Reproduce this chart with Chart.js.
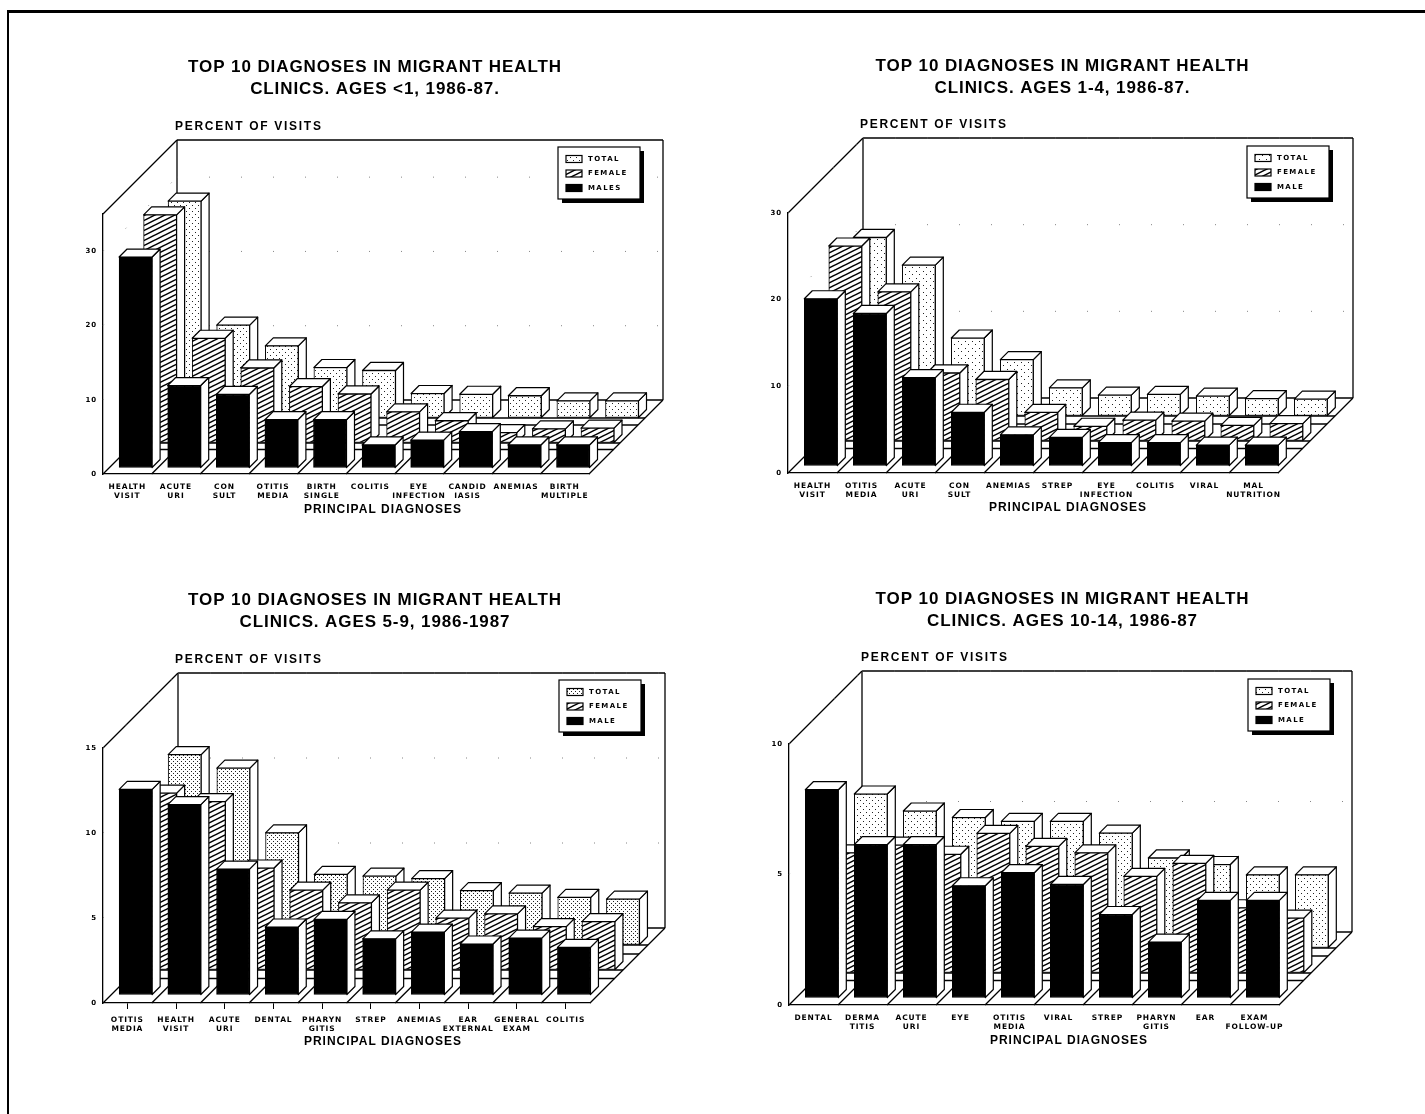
<!DOCTYPE html>
<html>
<head>
<meta charset="utf-8">
<title>Top 10 diagnoses in migrant health clinics</title>
<script src="https://cdn.jsdelivr.net/npm/chart.js@4"></script>
<style>
html, body { margin: 0; background: #fff; }
body { width: 1425px; height: 1114px; position: relative; overflow: hidden; }
#frame { position: absolute; left: 7px; top: 10px; width: 1430px; height: 1120px; border-top: 3px solid #000; border-left: 2px solid #000; }
canvas { position: absolute; }
</style>
</head>
<body>
<div id="frame"></div>
<canvas id="c1" width="600" height="500" style="left:75px;top:40px"></canvas>
<canvas id="c2" width="615" height="499" style="left:755px;top:40px"></canvas>
<canvas id="c3" width="600" height="494" style="left:75px;top:575px"></canvas>
<canvas id="c4" width="615" height="496" style="left:755px;top:575px"></canvas>
<script>
// 차트 데이터
var title1 = ['TOP 10 DIAGNOSES IN MIGRANT HEALTH', 'CLINICS. AGES <1, 1986-87.'];
var labels1 = [['HEALTH','VISIT'],['ACUTE','URI'],['CON','SULT'],['OTITIS','MEDIA'],['BIRTH','SINGLE'],'COLITIS',['EYE','INFECTION'],['CANDID','IASIS'],'ANEMIAS',['BIRTH','MULTIPLE']];
var male1 = [28.4, 11.1, 9.9, 6.5, 6.5, 3.1, 3.75, 4.9, 3.1, 3.1];
var female1 = [30.7, 14.1, 10.1, 7.6, 6.6, 4.2, 3.0, 1.4, 1.9, 2.0];
var total1 = [29.2, 12.5, 9.7, 6.8, 6.4, 3.3, 3.2, 3.0, 2.3, 2.3];
var yMax1 = 35, yStep1 = 10;

var title2 = ['TOP 10 DIAGNOSES IN MIGRANT HEALTH', 'CLINICS. AGES 1-4, 1986-87.'];
var labels2 = [['HEALTH','VISIT'],['OTITIS','MEDIA'],['ACUTE','URI'],['CON','SULT'],'ANEMIAS','STREP',['EYE','INFECTION'],'COLITIS','VIRAL',['MAL','NUTRITION']];
var male2 = [19.3, 17.6, 10.2, 6.2, 3.6, 3.3, 2.7, 2.7, 2.4, 2.4];
var female2 = [22.5, 17.2, 7.85, 7.1, 3.3, 1.7, 2.4, 2.3, 1.8, 2.0];
var total2 = [20.6, 17.4, 9.0, 6.5, 3.25, 2.4, 2.5, 2.3, 2.0, 1.95];
var yMax2 = 30, yStep2 = 10;

var title3 = ['TOP 10 DIAGNOSES IN MIGRANT HEALTH', 'CLINICS. AGES 5-9, 1986-1987'];
var labels3 = [['OTITIS','MEDIA'],['HEALTH','VISIT'],['ACUTE','URI'],'DENTAL',['PHARYN','GITIS'],'STREP','ANEMIAS',['EAR','EXTERNAL'],['GENERAL','EXAM'],'COLITIS'];
var male3 = [12.1, 11.2, 7.4, 4.0, 4.45, 3.3, 3.7, 3.0, 3.35, 2.8];
var female3 = [10.4, 9.9, 6.0, 4.7, 3.95, 4.7, 3.05, 3.3, 2.55, 2.85];
var total3 = [11.2, 10.4, 6.6, 4.15, 4.05, 3.9, 3.2, 3.05, 2.8, 2.7];
var yMax3 = 15, yStep3 = 5;

var title4 = ['TOP 10 DIAGNOSES IN MIGRANT HEALTH', 'CLINICS. AGES 10-14, 1986-87'];
var labels4 = ['DENTAL',['DERMA','TITIS'],['ACUTE','URI'],'EYE',['OTITIS','MEDIA'],'VIRAL','STREP',['PHARYN','GITIS'],'EAR',['EXAM','FOLLOW-UP']];
var male4 = [7.98, 5.88, 5.88, 4.3, 4.8, 4.35, 3.2, 2.14, 3.74, 3.74];
var female4 = [4.6, 4.9, 4.55, 5.35, 4.85, 4.6, 3.7, 4.2, 2.5, 2.1];
var total4 = [5.9, 5.25, 5.0, 4.85, 4.85, 4.4, 3.45, 3.2, 2.8, 2.8];
var yMax4 = 10, yStep4 = 5;

var maleNames = ['MALES', 'MALE', 'MALE', 'MALE'];
var yTitle = 'PERCENT OF VISITS';
var xTitle = 'PRINCIPAL DIAGNOSES';

// 3D 모양 상수
var ROW = 24.5;		// 줄 간격
var SIDE = 8;		// 막대 옆면 깊이
var OFF_X = 8.3;	// 줄 안에서 막대 위치

// 점무늬 (size 칸마다 점 2개)
function makeDots(size) {
	var c = document.createElement('canvas');
	c.width = size; c.height = size;
	var g = c.getContext('2d');
	g.fillStyle = '#fff'; g.fillRect(0, 0, size, size);
	g.fillStyle = '#222';
	g.fillRect(0, 0, 1, 1);
	g.fillRect(Math.floor(size / 2), Math.floor(size / 2), 1, 1);
	return g.createPattern(c, 'repeat');
}

function makeHatch() {
	var c = document.createElement('canvas');
	c.width = 10; c.height = 5;
	var g = c.getContext('2d');
	g.fillStyle = '#fff'; g.fillRect(0, 0, 10, 5);
	g.strokeStyle = '#000'; g.lineWidth = 1.5;
	g.beginPath();
	g.moveTo(-10, 5); g.lineTo(10, -5);
	g.moveTo(-10, 10); g.lineTo(20, -5);
	g.moveTo(0, 10); g.lineTo(20, 0);
	g.stroke();
	return g.createPattern(c, 'repeat');
}

var hatch = makeHatch();

function line(ctx, x1, y1, x2, y2) {
	ctx.beginPath();
	ctx.moveTo(x1, y1);
	ctx.lineTo(x2, y2);
	ctx.stroke();
}

function poly(ctx, pts) {
	ctx.beginPath();
	ctx.moveTo(pts[0], pts[1]);
	for (var i = 2; i < pts.length; i += 2) ctx.lineTo(pts[i], pts[i + 1]);
	ctx.closePath();
	ctx.fill();
	ctx.stroke();
}

var threeD = {
	id: 'threeD',
	// 제목은 캔버스 전체 폭 기준으로 가운데
	afterLayout: function(chart) {
		chart.titleBlock.left = 0;
		chart.titleBlock.right = chart.width;
	},
	// 줄마다 막대를 뒤쪽으로 밀기
	afterDatasetsUpdate: function(chart, args, opts) {
		chart.data.datasets.forEach(function(ds, d) {
			chart.getDatasetMeta(d).data.forEach(function(bar) {
				bar.x += OFF_X + ROW * d;
				bar.y -= opts.lift + 25 * d;
				bar.base -= opts.lift + 25 * d;
			});
		});
	},
	// 글자 간격 넓히기 (제목, 눈금 글자)
	beforeDraw: function(chart) {
		chart.ctx.letterSpacing = '0.9px';
	},
	// 벽과 바닥
	beforeDatasetsDraw: function(chart, args, opts) {
		var ctx = chart.ctx, a = chart.chartArea, y = chart.scales.y, x = chart.scales.x;
		var WALL = opts.wall;
		ctx.save();
		ctx.strokeStyle = '#000';
		ctx.lineWidth = 1.3;
		line(ctx, a.left, a.top, a.left + WALL, a.top - WALL);
		line(ctx, a.left + WALL, a.top - WALL, a.right + WALL, a.top - WALL);
		line(ctx, a.left + WALL, a.top - WALL, a.left + WALL, a.bottom - WALL);
		line(ctx, a.right + WALL, a.top - WALL, a.right + WALL, a.bottom - WALL);
		line(ctx, a.left + WALL, a.bottom - WALL, a.right + WALL, a.bottom - WALL);
		line(ctx, a.left, a.bottom, a.left + WALL, a.bottom - WALL);
		line(ctx, a.right, a.bottom, a.right + WALL, a.bottom - WALL);

		// 줄 구분선
		for (var k = 1; k <= 2; k++) {
			var t = ROW * k;
			line(ctx, a.left + t, a.bottom - t, a.right + t, a.bottom - t);
			var b = opts.lift + 25 * k;
			line(ctx, a.left + b, a.bottom - b, a.right + b, a.bottom - b);
		}
		// 앞줄 칸 구분선
		var step = (a.right - a.left) / x.ticks.length;
		for (var i = 1; i < x.ticks.length; i++) {
			var px = a.left + step * i;
			line(ctx, px, a.bottom, px + ROW, a.bottom - ROW);
		}
		// 눈금선 (희미한 점선)
		ctx.lineWidth = 0.8;
		ctx.strokeStyle = '#666';
		ctx.setLineDash([1, 31]);
		y.ticks.forEach(function(t) {
			if (t.value === 0) return;
			var py = y.getPixelForValue(t.value);
			line(ctx, a.left, py, a.left + WALL, py - WALL);
			line(ctx, a.left + WALL, py - WALL, a.right + WALL, py - WALL);
		});
		ctx.restore();
	},
	// 막대 옆면, 윗면
	beforeDatasetDraw: function(chart, args) {
		var ctx = chart.ctx;
		ctx.save();
		ctx.strokeStyle = '#000';
		ctx.fillStyle = '#fff';
		ctx.lineWidth = 1.2;
		ctx.lineJoin = 'round';
		args.meta.data.forEach(function(bar) {
			var x0 = bar.x - bar.width / 2, x1 = bar.x + bar.width / 2;
			poly(ctx, [x1, bar.y, x1 + SIDE, bar.y - SIDE, x1 + SIDE, bar.base - SIDE, x1, bar.base]);
			poly(ctx, [x0, bar.y, x0 + SIDE, bar.y - SIDE, x1 + SIDE, bar.y - SIDE, x1, bar.y]);
		});
		ctx.restore();
	},
	// 범례와 축 제목
	afterDraw: function(chart, args, opts) {
		var ctx = chart.ctx, a = chart.chartArea;
		ctx.save();
		ctx.fillStyle = '#000';
		ctx.textBaseline = 'middle';
		ctx.font = 'bold 12px "Liberation Sans"';
		ctx.textAlign = 'left';
		ctx.letterSpacing = '1.7px';
		ctx.fillText(yTitle, a.left + 72, opts.yTitleY);
		ctx.letterSpacing = '1px';
		ctx.textAlign = 'center';
		ctx.fillText(xTitle, a.left + 280, a.bottom + opts.xTitleGap);

		var lx = a.right - 31, ly = a.top - 67 + opts.legendShift;
		ctx.fillRect(lx + 4, ly + 4, 82, 52);
		ctx.fillStyle = '#fff';
		ctx.strokeStyle = '#000';
		ctx.lineWidth = 1.2;
		ctx.fillRect(lx, ly, 82, 52);
		ctx.strokeRect(lx, ly, 82, 52);
		ctx.textAlign = 'left';
		ctx.font = 'bold 7px "DejaVu Sans"';
		ctx.letterSpacing = '1.4px';
		var n = chart.data.datasets.length;
		for (var i = 0; i < n; i++) {
			var ds = chart.data.datasets[n - 1 - i];
			var cy = ly + 12 + i * 14.5;
			ctx.fillStyle = ds.backgroundColor;
			ctx.fillRect(lx + 8, cy - 3.5, 16, 7);
			ctx.strokeRect(lx + 8, cy - 3.5, 16, 7);
			ctx.fillStyle = '#000';
			ctx.fillText(ds.label, lx + 30, cy);
		}
		ctx.restore();
	}
};

function draw(id, title, labels, male, female, total, maleName, yMax, yStep, box) {
	var config = {
		type: 'bar',
		data: {
			labels: labels,
			datasets: [
				{ label: maleName, data: male, backgroundColor: '#000' },
				{ label: 'FEMALE', data: female, backgroundColor: hatch },
				{ label: 'TOTAL', data: total, backgroundColor: makeDots(box.dotSize) }
			]
		},
		options: {
			responsive: false,
			animation: false,
			events: [],
			clip: false,
			grouped: false,
			barThickness: 33,
			borderColor: '#000',
			borderWidth: 1,
			borderSkipped: false,
			layout: { padding: { left: 0, right: box.right, top: 0, bottom: 0 } },
			scales: {
				x: {
					afterFit: function(s) { s.height = 66; },
					border: { color: '#000', width: 1.3 },
					grid: { offset: false, drawOnChartArea: false, drawTicks: box.xTicks, tickLength: 6, tickColor: '#000' },
					ticks: {
						color: '#000',
						padding: box.xPad,
						maxRotation: 0,
						minRotation: 0,
						autoSkip: false,
						font: { family: '"DejaVu Sans"', size: 7.5, weight: 'bold', lineHeight: 1.2 }
					}
				},
				y: {
					min: 0,
					max: yMax,
					afterFit: function(s) { s.width = box.left; },
					// 최대값 35 같은 눈금은 빼기
					afterBuildTicks: function(s) {
						s.ticks = s.ticks.filter(function(t) { return t.value % yStep === 0; });
					},
					border: { color: '#000', width: 1.3 },
					grid: { drawOnChartArea: false, drawTicks: false },
					ticks: {
						stepSize: yStep,
						color: '#000',
						padding: 6,
						font: { family: '"DejaVu Sans"', size: 7, weight: 'bold' }
					}
				}
			},
			plugins: {
				legend: { display: false },
				tooltip: { enabled: false },
				title: {
					display: true,
					text: title,
					color: '#000',
					font: { family: '"Liberation Sans"', size: 17, weight: 'bold', lineHeight: 22 / 17 },
					padding: { top: box.titleTop, bottom: box.titleBottom }
				},
				threeD: { lift: box.lift, wall: box.wall, yTitleY: box.yTitleY, xTitleGap: box.xTitleGap, legendShift: box.legendShift }
			}
		},
		plugins: [threeD]
	};
	return new Chart(document.getElementById(id).getContext('2d'), config);
}

draw('c1', title1, labels1, male1, female1, total1, maleNames[0], yMax1, yStep1,
	{ left: 28, right: 86, titleTop: 16, titleBottom: 114, lift: 6, wall: 74, dotSize: 6, xPad: 9, xTicks: false, yTitleY: 87, xTitleGap: 36, legendShift: 0 });
draw('c2', title2, labels2, male2, female2, total2, maleNames[1], yMax2, yStep2,
	{ left: 33, right: 92, titleTop: 15, titleBottom: 114, lift: 7, wall: 75, dotSize: 7, xPad: 9, xTicks: false, yTitleY: 85, xTitleGap: 35, legendShift: 0 });
draw('c3', title3, labels3, male3, female3, total3, maleNames[2], yMax3, yStep3,
	{ left: 28, right: 85, titleTop: 14, titleBottom: 115, lift: 8, wall: 75, dotSize: 4, xPad: 7, xTicks: true, yTitleY: 85, xTitleGap: 39, legendShift: -1 });
draw('c4', title4, labels4, male4, female4, total4, maleNames[3], yMax4, yStep4,
	{ left: 34, right: 91, titleTop: 13, titleBottom: 112, lift: 7, wall: 73, dotSize: 6, xPad: 9, xTicks: false, yTitleY: 83, xTitleGap: 36, legendShift: 2 });
</script>
</body>
</html>
